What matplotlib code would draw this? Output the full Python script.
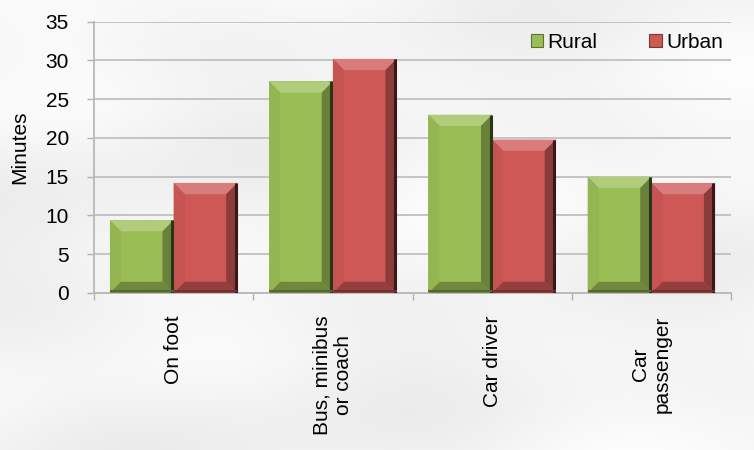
import numpy as np
import matplotlib
matplotlib.use("Agg")
import matplotlib.pyplot as plt
from matplotlib.patches import Polygon, Patch
from matplotlib.colors import to_rgb

plt.rcParams['font.family'] = ['Liberation Sans', 'DejaVu Sans']

# Average travel time to work by mode, minutes
categories = ["On foot", "Bus, minibus\nor coach", "Car driver", "Car\npassenger"]
rural = [9.4, 27.3, 23.0, 15.0]
urban = [14.2, 30.2, 19.8, 14.2]
series_names = ["Rural", "Urban"]
yticks = [0, 5, 10, 15, 20, 25, 30, 35]

GREEN = "#9bbd55"
RED = "#cd5856"

FS = 15

fig = plt.figure(figsize=(7.54, 4.5), dpi=100)
fig.patch.set_facecolor("#f3f3f3")

# soft paper-like backdrop
bg = fig.add_axes([0, 0, 1, 1], zorder=-10)
yy, xx = np.mgrid[0:1:300j, 0:1:500j]
tone = (0.962
        + 0.016 * np.sin(6.0 * xx + 9.0 * yy)
        + 0.010 * np.sin(14.0 * xx - 5.0 * yy + 1.3)
        + 0.008 * np.cos(3.0 * xx + 21.0 * yy + 0.7)
        - 0.015 * yy * (1 - xx))
tone = np.clip(tone, 0.9, 1.0)
bg.imshow(np.dstack([tone, tone, tone]), aspect="auto", extent=[0, 1, 0, 1],
          interpolation="bicubic")
bg.set_axis_off()

ax = fig.add_axes([94 / 754, 1 - 293 / 450, (731 - 94) / 754, (293 - 21.7) / 450])
ax.set_facecolor("none")

x = np.arange(len(categories))
w = 0.40
bars_r = ax.bar(x - w / 2, rural, w, color=GREEN, zorder=3, linewidth=0)
bars_u = ax.bar(x + w / 2, urban, w, color=RED, zorder=3, linewidth=0)


def shade(c, f):
    r, g, b = to_rgb(c)
    if f >= 0:
        return (r + (1 - r) * f, g + (1 - g) * f, b + (1 - b) * f)
    f = -f
    return (r * (1 - f), g * (1 - f), b * (1 - f))


def bevel(bars, color):
    bx, by = 0.07, 1.45
    for p in bars:
        x0, y0 = p.get_x(), p.get_y()
        x1, y1 = x0 + p.get_width(), y0 + p.get_height()
        top = [(x0, y1), (x1, y1), (x1 - bx, y1 - by), (x0 + bx, y1 - by)]
        right = [(x1, y1), (x1, y0), (x1 - bx, y0 + by), (x1 - bx, y1 - by)]
        bottom = [(x0, y0), (x1, y0), (x1 - bx, y0 + by), (x0 + bx, y0 + by)]
        left = [(x0, y0), (x0, y1), (x0 + bx, y1 - by), (x0 + bx, y0 + by)]
        ax.add_patch(Polygon(top, closed=True, facecolor=shade(color, 0.22),
                             edgecolor="none", zorder=4))
        ax.add_patch(Polygon(left, closed=True, facecolor=shade(color, -0.04),
                             edgecolor="none", zorder=4))
        ax.add_patch(Polygon(bottom, closed=True, facecolor=shade(color, -0.28),
                             edgecolor="none", zorder=4))
        ax.add_patch(Polygon(right, closed=True, facecolor=shade(color, -0.32),
                             edgecolor="none", zorder=4))
        # darker outer rim on the right and bottom
        ax.plot([x1 - 0.01, x1 - 0.01], [y0, y1], color=shade(color, -0.72),
                lw=2.2, zorder=5, solid_capstyle="butt")
        ax.plot([x0, x1], [y0 + 0.25, y0 + 0.25], color=shade(color, -0.45),
                lw=1.5, zorder=5, solid_capstyle="butt")


bevel(bars_r, GREEN)
bevel(bars_u, RED)

ax.set_xlim(-0.5, len(categories) - 0.5)
ax.set_ylim(0, 35)
ax.set_yticks(yticks)
ax.tick_params(axis="y", labelsize=FS, length=5, width=1, color="#b0b0b0",
               pad=13, labelcolor="#000000")
ax.yaxis.grid(True, color="#c0c0c0", linewidth=1.3, zorder=0)
ax.set_axisbelow(True)

ax.set_xticks(x)
ax.set_xticklabels(categories, rotation=90, fontsize=FS, ha="center", va="top",
                   multialignment="center")
ax.set_xticks(np.arange(-0.5, len(categories), 1.0), minor=True)
ax.tick_params(axis="x", which="major", length=0, pad=16)
ax.tick_params(axis="x", which="minor", length=5, width=1, color="#b0b0b0")

for side in ("top", "right"):
    ax.spines[side].set_visible(False)
for side in ("left", "bottom"):
    ax.spines[side].set_color("#b8b8b8")
    ax.spines[side].set_linewidth(1.3)

fig.text(20 / 754, 1 - 147 / 450, "Minutes", rotation=90, fontsize=FS,
         ha="center", va="center")

handles = [Patch(facecolor=GREEN, edgecolor=shade(GREEN, -0.4), linewidth=0.8),
           Patch(facecolor=RED, edgecolor=shade(RED, -0.4), linewidth=0.8)]
ax.legend(handles, series_names, loc="center right",
          bbox_to_anchor=(723 / 754, 1 - 42 / 450), bbox_transform=fig.transFigure,
          ncol=2, frameon=False, fontsize=FS, handlelength=0.6, handleheight=0.6,
          handletextpad=0.2, columnspacing=2.5, borderaxespad=0, borderpad=0)

fig.savefig("out.png", dpi=100, facecolor=fig.get_facecolor())
